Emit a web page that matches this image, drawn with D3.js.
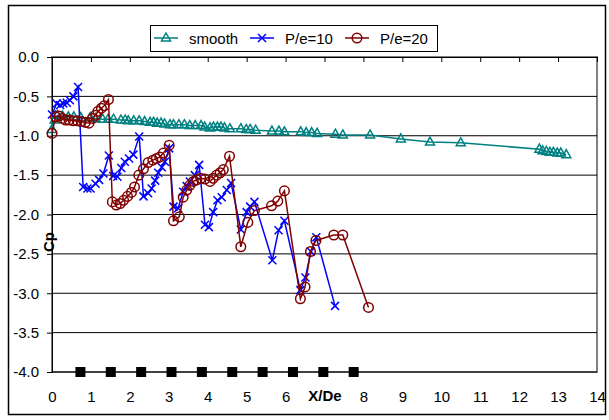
<!DOCTYPE html>
<html>
<head>
<meta charset="utf-8">
<script src="https://cdn.jsdelivr.net/npm/d3@7"></script>
<style>
body { margin: 0; background: #fff; }
text { font-family: "Liberation Sans", Arial, sans-serif; }
</style>
</head>
<body>
<div id="canvas"></div>
<script>
var canvasWidth = 609, canvasHeight = 420;
var plotLeft = 52, plotRight = 597, plotTop = 57, plotBottom = 372;

//data: [X/De, Cp]
var smoothData = [
    [0, -0.92], [0.07, -0.80], [0.14, -0.74], [0.27, -0.75], [0.42, -0.76], [0.56, -0.76],
    [0.74, -0.77], [0.98, -0.77], [1.12, -0.78], [1.30, -0.79], [1.44, -0.79], [1.58, -0.79],
    [1.77, -0.80], [1.88, -0.80], [1.96, -0.81], [2.10, -0.81], [2.24, -0.81], [2.38, -0.82],
    [2.52, -0.83], [2.61, -0.83], [2.70, -0.84], [2.80, -0.84], [2.89, -0.85], [3.03, -0.86],
    [3.12, -0.86], [3.26, -0.86], [3.40, -0.86], [3.54, -0.87], [3.68, -0.87], [3.83, -0.87],
    [3.92, -0.89], [4.06, -0.90], [4.15, -0.89], [4.25, -0.89], [4.34, -0.89], [4.43, -0.90],
    [4.57, -0.91], [4.85, -0.91], [4.99, -0.92], [5.09, -0.92], [5.23, -0.93], [5.65, -0.94],
    [5.83, -0.94], [5.97, -0.95], [6.39, -0.95], [6.53, -0.96], [6.67, -0.96], [6.81, -0.97],
    [7.28, -0.98], [7.47, -0.99], [8.17, -0.99], [8.96, -1.04], [9.71, -1.08], [10.5, -1.09],
    [12.52, -1.17], [12.60, -1.19], [12.70, -1.20], [12.79, -1.21], [12.88, -1.21],
    [12.98, -1.22], [13.07, -1.22], [13.21, -1.24]
];

var pe10Data = [
    [0, -0.73], [0.12, -0.59], [0.21, -0.61], [0.29, -0.59], [0.38, -0.58], [0.46, -0.55],
    [0.55, -0.50], [0.67, -0.38], [0.80, -1.65], [0.91, -1.67], [0.99, -1.67], [1.12, -1.61],
    [1.21, -1.56], [1.32, -1.48], [1.46, -1.25], [1.57, -1.51], [1.68, -1.52], [1.78, -1.41],
    [1.87, -1.33], [1.98, -1.29], [2.09, -1.24], [2.24, -1.01], [2.35, -1.77], [2.47, -1.73],
    [2.56, -1.67], [2.65, -1.57], [2.73, -1.47], [2.82, -1.40], [2.90, -1.33], [3.01, -1.16],
    [3.12, -1.90], [3.24, -1.92], [3.37, -1.71], [3.46, -1.64], [3.54, -1.58], [3.67, -1.50],
    [3.78, -1.37], [3.93, -2.13], [4.03, -2.16], [4.14, -1.97], [4.25, -1.82], [4.36, -1.78],
    [4.49, -1.69], [4.60, -1.60], [4.85, -2.19], [5.00, -1.97], [5.09, -1.90], [5.20, -1.84],
    [5.66, -2.58], [5.82, -2.20], [5.97, -2.08], [6.38, -2.96], [6.51, -2.80], [6.65, -2.47],
    [6.79, -2.29], [7.27, -3.16]
];

var pe20Data = [
    [0, -0.97], [0.09, -0.76], [0.18, -0.75], [0.27, -0.78], [0.35, -0.80], [0.44, -0.80],
    [0.55, -0.81], [0.65, -0.81], [0.75, -0.82], [0.86, -0.83], [0.95, -0.84], [1.04, -0.78],
    [1.12, -0.74], [1.18, -0.69], [1.27, -0.65], [1.34, -0.62], [1.45, -0.54], [1.55, -1.84],
    [1.65, -1.88], [1.75, -1.86], [1.84, -1.82], [1.94, -1.77], [2.04, -1.72], [2.12, -1.65],
    [2.23, -1.50], [2.35, -1.42], [2.47, -1.34], [2.59, -1.31], [2.68, -1.29], [2.77, -1.27],
    [2.86, -1.22], [3.01, -1.12], [3.12, -2.08], [3.27, -2.03], [3.37, -1.78], [3.46, -1.69],
    [3.54, -1.63], [3.63, -1.58], [3.72, -1.56], [3.82, -1.54], [3.93, -1.55], [4.06, -1.58],
    [4.14, -1.54], [4.23, -1.50], [4.32, -1.47], [4.40, -1.43], [4.56, -1.26], [4.85, -2.41],
    [5.03, -2.10], [5.20, -1.95], [5.64, -1.89], [5.80, -1.83], [5.97, -1.70], [6.38, -3.07],
    [6.50, -2.92], [6.64, -2.47], [6.78, -2.33], [7.24, -2.26], [7.47, -2.26], [8.13, -3.18]
];

//rib positions drawn as black squares on the bottom line
var ribX = [0.73, 1.51, 2.29, 3.07, 3.85, 4.63, 5.41, 6.19, 6.97, 7.75];
var ribCp = -4.0;

var seriesNames = ["smooth", "P/e=10", "P/e=20"];
var seriesColors = ["#008080", "#0000ff", "#800000"];
var markerTypes = ["triangle", "x", "circle"];

var xTickValues = [0, 1, 2, 3, 4, 5, 6, 7, 8, 9, 10, 11, 12, 13, 14];
var xTickLabels = ["0", "1", "2", "3", "4", "5", "6", "", "8", "9", "10", "11", "12", "13", "14"]; // 7 is hidden under the axis title
var yTickValues = [0, -0.5, -1, -1.5, -2, -2.5, -3, -3.5, -4];
var yTickLabels = ["0.0", "-0.5", "-1.0", "-1.5", "-2.0", "-2.5", "-3.0", "-3.5", "-4.0"];

var xScale = d3.scaleLinear().domain([0, 14]).range([plotLeft, plotRight]);
var yScale = d3.scaleLinear().domain([-4, 0]).range([plotBottom, plotTop]);

var svg = d3.select("#canvas").append("svg")
            .attr("width", canvasWidth)
            .attr("height", canvasHeight)
            .attr("viewBox", "0 0 " + canvasWidth + " " + canvasHeight);

//chart frame
svg.append("rect")
    .attr("x", 8.5).attr("y", 5.5)
    .attr("width", 597).attr("height", 409)
    .attr("fill", "#fff")
    .attr("stroke", "#000")
    .attr("stroke-width", 1.5);

//plot area
svg.append("rect")
    .attr("x", plotLeft).attr("y", plotTop)
    .attr("width", plotRight - plotLeft).attr("height", plotBottom - plotTop)
    .attr("fill", "none")
    .attr("stroke", "#808080")
    .attr("stroke-width", 2);

//gridlines
svg.append("g")
    .selectAll("line")
    .data(yTickValues.slice(1))
    .join("line")
    .attr("x1", plotLeft).attr("x2", plotRight)
    .attr("y1", d => yScale(d)).attr("y2", d => yScale(d))
    .attr("stroke", "#000")
    .attr("stroke-width", 1);

//y axis
var yAxis = svg.append("g")
    .attr("transform", "translate(" + plotLeft + ",0)")
    .call(d3.axisLeft(yScale)
            .tickValues(yTickValues)
            .tickSize(5)
            .tickPadding(8)
            .tickFormat((d, i) => yTickLabels[i]));
yAxis.selectAll("text").attr("font-size", 15).attr("fill", "#000").style("font-family", "'Liberation Sans', Arial, sans-serif");
yAxis.selectAll("line, path").attr("stroke", "#000");

//x axis line at Cp = 0, ticks pointing into the plot
var xAxisTop = svg.append("g")
    .attr("transform", "translate(0," + plotTop + ")")
    .call(d3.axisBottom(xScale)
            .tickValues(xTickValues)
            .tickSizeInner(5)
            .tickSizeOuter(0)
            .tickFormat(""));
xAxisTop.selectAll("line, path").attr("stroke", "#000");

//x tick labels below the plot
var xAxisLabels = svg.append("g")
    .attr("transform", "translate(0," + plotBottom + ")")
    .call(d3.axisBottom(xScale)
            .tickValues(xTickValues)
            .tickSize(0)
            .tickPadding(19)
            .tickFormat((d, i) => xTickLabels[i]));
xAxisLabels.select(".domain").remove();
xAxisLabels.selectAll("text").attr("font-size", 15).attr("fill", "#000").style("font-family", "'Liberation Sans', Arial, sans-serif");

//series
var lineGen = d3.line().x(d => xScale(d[0])).y(d => yScale(d[1]));

function markerPath(markerType)
{
    if(markerType == "triangle")
        return "M0,-5L4.5,3L-4.5,3Z";
    else if(markerType == "x")
        return "M-4,-4L4,4M-4,4L4,-4";
    return d3.symbol(d3.symbolCircle, 72)();
}

function drawSeries(data, color, markerType)
{
    svg.append("path")
        .datum(data)
        .attr("d", lineGen)
        .attr("fill", "none")
        .attr("stroke", color)
        .attr("stroke-width", 1.5);

    svg.append("g")
        .selectAll("path")
        .data(data)
        .join("path")
        .attr("transform", d => "translate(" + xScale(d[0]) + "," + yScale(d[1]) + ")")
        .attr("d", markerPath(markerType))
        .attr("fill", "none")
        .attr("stroke", color)
        .attr("stroke-width", 1.5);
}

seriesNames.forEach(function(name, i)
{
    drawSeries([smoothData, pe10Data, pe20Data][i], seriesColors[i], markerTypes[i]);
});

//ribs
svg.append("g")
    .selectAll("rect")
    .data(ribX)
    .join("rect")
    .attr("x", d => xScale(d) - 5)
    .attr("y", yScale(ribCp) - 5)
    .attr("width", 10)
    .attr("height", 10)
    .attr("fill", "#000");

//axis titles
svg.append("text")
    .attr("x", 325)
    .attr("y", 401)
    .attr("text-anchor", "middle")
    .attr("font-size", 15)
    .attr("font-weight", "bold")
    .text("X/De");

svg.append("text")
    .attr("transform", "translate(54,242) rotate(-90)")
    .attr("text-anchor", "middle")
    .attr("font-size", 15)
    .attr("font-weight", "bold")
    .text("Cp");

//legend
var legend = svg.append("g");
legend.append("rect")
    .attr("x", 150.5).attr("y", 25.5)
    .attr("width", 287).attr("height", 26)
    .attr("fill", "#fff")
    .attr("stroke", "#000")
    .attr("stroke-width", 1);

var legendMarkerX = [166, 262, 357];
var legendTextX = [189, 285, 380];

seriesNames.forEach(function(name, i)
{
    legend.append("line")
        .attr("x1", legendMarkerX[i] - 12).attr("x2", legendMarkerX[i] + 12)
        .attr("y1", 38).attr("y2", 38)
        .attr("stroke", seriesColors[i])
        .attr("stroke-width", 1.5);

    legend.append("path")
        .attr("transform", "translate(" + legendMarkerX[i] + ",38)")
        .attr("d", markerPath(markerTypes[i]))
        .attr("fill", "none")
        .attr("stroke", seriesColors[i])
        .attr("stroke-width", 1.5);

    legend.append("text")
        .attr("x", legendTextX[i])
        .attr("y", 44)
        .attr("font-size", 15)
        .text(name);
});
</script>
</body>
</html>
